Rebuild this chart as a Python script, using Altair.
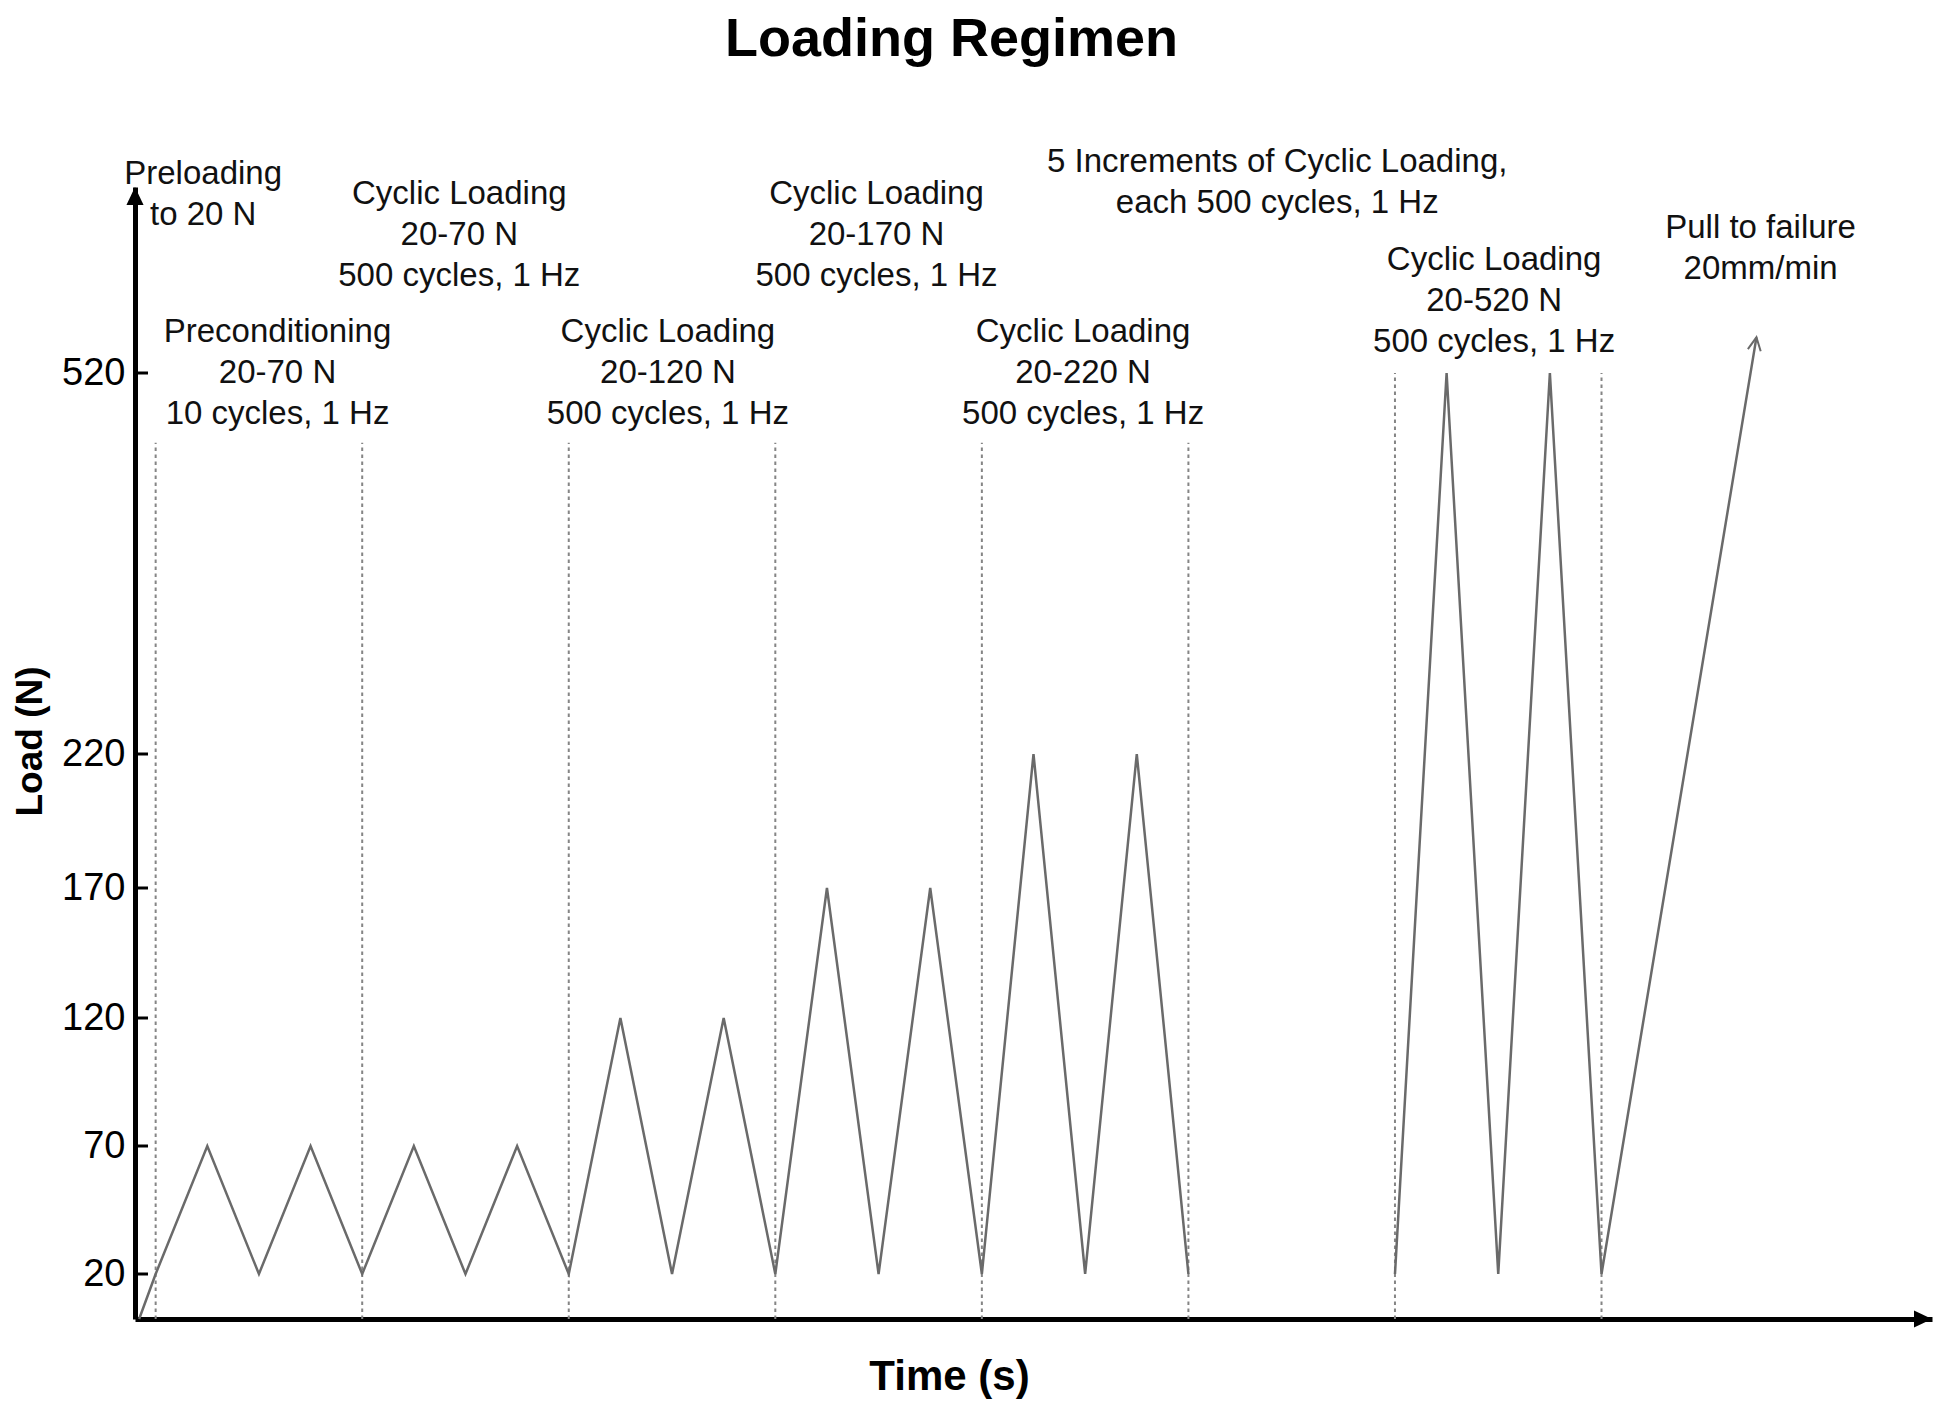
import altair as alt
import pandas as pd

# ---- data (time in units of one 500-cycle block, load in N) ----
WAVE_T = [0.02, 0.10, 0.35, 0.60, 0.85, 1.10, 1.35, 1.60, 1.85, 2.10, 2.35, 2.60, 2.85, 3.10,
          3.35, 3.60, 3.85, 4.10, 4.35, 4.60, 4.85, 5.10,
          6.10, 6.35, 6.60, 6.85, 7.10, 7.85]
WAVE_LOAD = [0, 20, 70, 20, 70, 20, 70, 20, 70, 20, 120, 20, 120, 20,
             170, 20, 170, 20, 220, 20, 220, 20,
             20, 520, 20, 520, 20, 548]
WAVE_SEG = [1] * 22 + [2] * 6

DIV_T = [0.1, 1.1, 2.1, 3.1, 4.1, 5.1, 6.1, 7.1]
DIV_TOP = [465, 465, 465, 465, 465, 465, 520, 520]

Y_TICKS = [20, 70, 120, 170, 220, 520]

ANN_TEXT = [
    "Preloading\nto 20 N",
    "Preconditioning\n20-70 N\n10 cycles, 1 Hz",
    "Cyclic Loading\n20-70 N\n500 cycles, 1 Hz",
    "Cyclic Loading\n20-120 N\n500 cycles, 1 Hz",
    "Cyclic Loading\n20-170 N\n500 cycles, 1 Hz",
    "Cyclic Loading\n20-220 N\n500 cycles, 1 Hz",
    "5 Increments of Cyclic Loading,\neach 500 cycles, 1 Hz",
    "Cyclic Loading\n20-520 N\n500 cycles, 1 Hz",
    "Pull to failure\n20mm/min",
]
ANN_T = [0.33, 0.69, 1.57, 2.58, 3.59, 4.59, 5.53, 6.58, 7.87]
ANN_LOAD = [668, 544, 653, 544, 653, 544, 678, 601, 626]

X_END = 8.7      # end of time axis (arrow tip)
Y_END = 666      # end of load axis (arrow tip)

# ---- layout ----
FONT = "Liberation Sans"
W, H = 1797, 1132
Y_DOMAIN = [0, 20, 70, 120, 170, 220, 520, Y_END]
Y_RANGE = [1132, 1087, 959, 831, 701, 567, 186, 0]   # broken (piecewise) load axis

wave = pd.DataFrame({"t": WAVE_T, "load": WAVE_LOAD, "seg": WAVE_SEG})
divs = pd.DataFrame({"t": DIV_T, "load": [0] * len(DIV_T), "top": DIV_TOP})
ticks = pd.DataFrame({"t": [0.0] * len(Y_TICKS), "t2": [0.063] * len(Y_TICKS), "load": Y_TICKS})
ann = pd.DataFrame({"t": ANN_T, "load": ANN_LOAD, "label": ANN_TEXT})
yarrow = pd.DataFrame({"t": [0.0], "load": [Y_END]})
xarrow = pd.DataFrame({"t": [X_END], "load": [0]})
farrow = pd.DataFrame({"t": [WAVE_T[-1]], "load": [WAVE_LOAD[-1]]})

xscale = alt.Scale(domain=[0, X_END], nice=False, zero=False)
yscale = alt.Scale(domain=Y_DOMAIN, range=Y_RANGE, nice=False, zero=False)

x_axis = alt.Axis(labels=False, ticks=False, tickSize=0, grid=False,
                  domainColor="black", domainWidth=5,
                  title="Time (s)", titleFont=FONT, titleFontSize=42, titleFontWeight="bold",
                  titleColor="black", titleX=814, titleY=70, titleAlign="center",
                  titleBaseline="alphabetic")
y_axis = alt.Axis(values=Y_TICKS, ticks=False, tickSize=0, grid=False,
                  domainColor="black", domainWidth=5,
                  labelFont=FONT, labelFontSize=38, labelColor="black", labelPadding=10,
                  title="Load (N)", titleFont=FONT, titleFontSize=37, titleFontWeight="bold",
                  titleColor="black", titleX=-105, titleY=554, titleAngle=270,
                  titleAlign="center", titleBaseline="middle")

X = alt.X("t:Q", scale=xscale, axis=x_axis)
Y = alt.Y("load:Q", scale=yscale, axis=y_axis)

div_layer = alt.Chart(divs).mark_rule(color="#858585", strokeWidth=2, strokeDash=[3.5, 3.5]).encode(
    x=X, y=Y, y2="top:Q")

wave_layer = alt.Chart(wave).mark_line(color="#6a6a6a", strokeWidth=2.5).encode(
    x=X, y=Y, detail="seg:N", order="t:Q")

tick_layer = alt.Chart(ticks).mark_rule(color="black", strokeWidth=3).encode(
    x=X, x2="t2:Q", y=Y)

ARROW = "M0,0L0.95,2L-0.95,2Z"
yarrow_layer = alt.Chart(yarrow).mark_point(shape=ARROW, filled=True, size=324, color="black",
                                           opacity=1).encode(x=X, y=Y)
xarrow_layer = alt.Chart(xarrow).mark_point(shape=ARROW, filled=True, size=324, color="black",
                                           opacity=1, angle=90).encode(x=X, y=Y)
farrow_layer = alt.Chart(farrow).mark_point(shape="M-0.65,1.3L0,0L0.65,1.3", filled=False,
                                           size=400, color="#6a6a6a", strokeWidth=2,
                                           opacity=1, angle=9.5).encode(x=X, y=Y)

text_layer = alt.Chart(ann).mark_text(font=FONT, fontSize=33, color="#111111", align="center",
                                      baseline="alphabetic", lineBreak="\n", lineHeight=41).encode(
    x=X, y=Y, text="label:N")

chart = alt.layer(div_layer, wave_layer, tick_layer, yarrow_layer, xarrow_layer, farrow_layer,
                  text_layer).properties(
    width=W, height=H,
    background="white",
    title=alt.TitleParams("Loading Regimen", font=FONT, fontSize=54, fontWeight="bold",
                          color="black", anchor="middle", frame="group", dx=-82,
                          baseline="alphabetic", offset=36),
    autosize=alt.AutoSizeParams(type="none"),
    padding={"left": 127, "top": 179, "right": 6, "bottom": 86},
).configure_view(strokeWidth=0, stroke="transparent")

chart.save("out.html", embed_options={"renderer": "svg", "actions": False})
